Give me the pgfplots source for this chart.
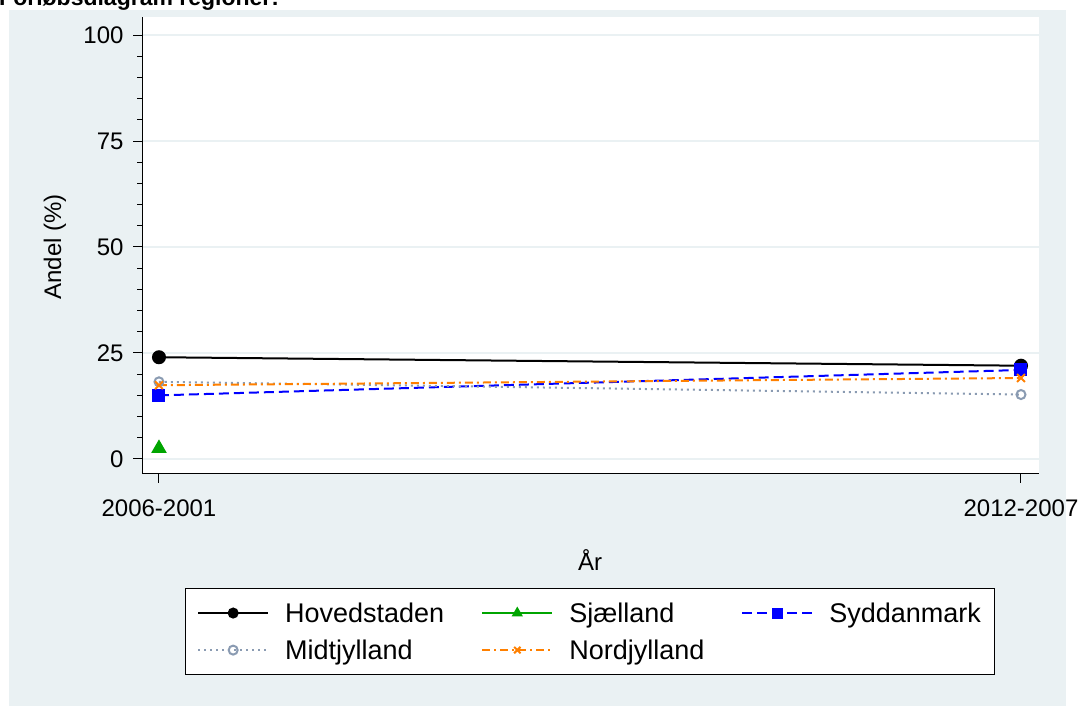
\documentclass[border=0pt]{standalone}
\usepackage{fontspec}
\setmainfont{Liberation Sans}
\usepackage{pgfplots}
\pgfplotsset{compat=1.18}
\definecolor{bgcol}{RGB}{234,241,243}
\definecolor{sgreen}{RGB}{0,165,0}
\definecolor{sblue}{RGB}{0,0,255}
\definecolor{sgray}{RGB}{138,155,178}
\definecolor{sorange}{RGB}{255,128,0}
\begin{document}
\begin{tikzpicture}[x=1pt,y=1pt]
\path[use as bounding box] (0,0) rectangle (1087,706);
\fill[bgcol] (9,0) rectangle (1066,696);
\node[anchor=base west, inner sep=0, font=\bfseries\fontsize{23}{26}\selectfont] at (-1,700) {Forløbsdiagram regioner:};
\begin{axis}[
  at={(142pt,232pt)}, anchor=south west,
  width=897pt, height=457pt, scale only axis,
  xmin=-0.0197, xmax=1.0209, ymin=-3.54, ymax=104.25,
  axis lines*=left,
  axis background/.style={fill=white},
  axis line style={black, line width=1pt},
  xtick={0,1}, xticklabels={2006-2001,2012-2007},
  ytick={0,25,50,75,100}, minor y tick num=4,
  tick align=outside,
  major tick length=9pt, minor tick length=5pt,
  tick style={black, line width=1pt},
  ymajorgrids, major grid style={bgcol, line width=1.6pt},
  /pgf/number format/assume math mode=true,
  tick label style={font=\fontsize{24}{28}\selectfont},
  xticklabel shift=13pt, yticklabel shift=6pt,
  xlabel={År}, ylabel={Andel (\%)},
  every axis x label/.style={at={(axis description cs:0.4995,-0.188)}, anchor=center, font=\fontsize{24}{28}\selectfont},
  every axis y label/.style={at={(axis description cs:-0.097,0.497)}, anchor=center, rotate=90, font=\fontsize{24}{28}\selectfont},
  legend style={at={(axis description cs:0.4995,-0.2495)}, anchor=north,
    draw=black, line width=1pt, fill=white,
    font=\fontsize{27}{31}\selectfont, inner xsep=12pt, inner ysep=12pt,
    row sep=12pt,
    /tikz/every odd column/.append style={column sep=14pt},
    /tikz/every even column/.append style={column sep=35pt}},
  legend columns=3, legend cell align=left,
  legend image code/.code={\draw[mark repeat=2,mark phase=2,#1,mark size=4.5pt] plot coordinates {(0pt,0pt) (35pt,0pt) (70pt,0pt)};},
]
\addplot[black, line width=2pt, mark=*, mark size=6pt, mark options={solid}] coordinates {(0,24) (1,22)};
\addlegendentry{Hovedstaden}
\addplot[sgreen, line width=2pt, mark=triangle*, mark size=7pt, mark options={solid}] coordinates {(0,2.5)};
\addlegendentry{Sjælland}
\addplot[sblue, line width=2pt, dash pattern=on 10pt off 5pt, mark=square*, mark size=5.5pt, mark options={solid}] coordinates {(0,15) (1,21)};
\addlegendentry{Syddanmark}
\addplot[sgray, line width=2pt, dash pattern=on 2pt off 4pt, mark=o, mark size=4.5pt, mark options={solid, line width=2pt}] coordinates {(0,18.2) (1,15.2)};
\addlegendentry{Midtjylland}
\addplot[sorange, line width=2pt, dash pattern=on 8pt off 4pt on 2pt off 4pt, mark=x, mark size=5.5pt, mark options={solid, line width=2pt}] coordinates {(0,17.4) (1,19.1)};
\addlegendentry{Nordjylland}
\end{axis}
\end{tikzpicture}
\end{document}
